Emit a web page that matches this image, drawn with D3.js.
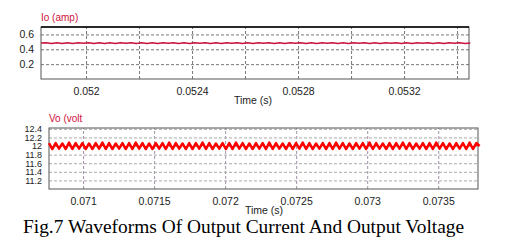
<!DOCTYPE html>
<html>
<head>
<meta charset="utf-8">
<script src="https://cdn.jsdelivr.net/npm/d3@7"></script>
<style>
  body { margin: 0; background: #fff; }
  svg { display: block; }
</style>
</head>
<body>
<script>
const ioStart = 0.05183;
const ioStep = 0.00002;
const ioValues = [
  0.484, 0.489, 0.479, 0.489, 0.479, 0.488, 0.479, 0.489, 0.480, 0.489,
  0.479, 0.489, 0.479, 0.488, 0.479, 0.489, 0.480, 0.489, 0.479, 0.488,
  0.479, 0.489, 0.479, 0.489, 0.480, 0.488, 0.479, 0.489, 0.479, 0.489,
  0.480, 0.488, 0.479, 0.489, 0.479, 0.489, 0.480, 0.489, 0.479, 0.488,
  0.479, 0.489, 0.480, 0.489, 0.479, 0.488, 0.479, 0.489, 0.480, 0.489,
  0.479, 0.488, 0.479, 0.489, 0.480, 0.489, 0.479, 0.488, 0.479, 0.489,
  0.480, 0.489, 0.479, 0.488, 0.479, 0.489, 0.480, 0.489, 0.479, 0.488,
  0.479, 0.489, 0.480, 0.489, 0.479, 0.488, 0.479, 0.489, 0.480, 0.489,
  0.479, 0.486
];

const voStart = 0.07076;
const voStep = 0.0000235;
const voValues = [
  12.07, 11.93, 12.07, 11.94, 12.06, 11.93, 12.08, 11.93, 12.07, 11.94,
  12.07, 11.93, 12.06, 11.93, 12.07, 11.94, 12.08, 11.93, 12.07, 11.93,
  12.06, 11.94, 12.07, 11.93, 12.07, 11.93, 12.08, 11.94, 12.07, 11.93,
  12.06, 11.93, 12.07, 11.94, 12.07, 11.93, 12.08, 11.93, 12.07, 11.94,
  12.06, 11.93, 12.07, 11.93, 12.07, 11.94, 12.08, 11.93, 12.07, 11.93,
  12.06, 11.94, 12.07, 11.93, 12.07, 11.93, 12.08, 11.94, 12.07, 11.93,
  12.06, 11.93, 12.07, 11.94, 12.07, 11.93, 12.08, 11.93, 12.07, 11.94,
  12.06, 11.93, 12.07, 11.93, 12.07, 11.94, 12.08, 11.93, 12.07, 11.93,
  12.06, 11.94, 12.07, 11.93, 12.07, 11.93, 12.08, 11.94, 12.07, 11.93,
  12.06, 11.93, 12.07, 11.94, 12.07, 11.93, 12.08, 11.93, 12.07, 11.94,
  12.06, 11.93, 12.07, 11.93, 12.07, 11.94, 12.08, 11.93, 12.07, 11.93,
  12.06, 11.94, 12.07, 11.93, 12.07, 11.93, 12.08, 11.94, 12.07, 11.93,
  12.06, 11.93, 12.07, 11.94, 12.07, 11.93, 12.08, 11.93, 12.07, 12.00
];

const ioYTicks = [0.2, 0.4, 0.6];
const ioXGrid = [0.052, 0.0522, 0.0524, 0.0526, 0.0528, 0.053, 0.0532, 0.0534];
const ioXLabels = [0.052, 0.0524, 0.0528, 0.0532];
const voYTicks = [11.2, 11.4, 11.6, 11.8, 12, 12.2, 12.4];
const voXTicks = [0.071, 0.0715, 0.072, 0.0725, 0.073, 0.0735];

const width = 520;
const height = 249;
const sans = "'Liberation Sans', Arial, sans-serif";

const svg = d3.select("body").append("svg")
  .attr("width", width)
  .attr("height", height);

function drawPanel(opt) {
  const x = d3.scaleLinear().domain(opt.xDomain).range([opt.left, opt.right]);
  const y = d3.scaleLinear().domain(opt.yDomain).range([opt.bottom, opt.top]);
  const g = svg.append("g");

  // grid
  g.append("g")
    .attr("transform", `translate(0,${opt.bottom})`)
    .call(d3.axisBottom(x).tickValues(opt.xGrid).tickSize(-(opt.bottom - opt.top)).tickFormat(""))
    .call(s => s.select(".domain").remove())
    .call(s => s.selectAll("line").attr("stroke", opt.vGridColor).attr("stroke-dasharray", "3,2"));

  g.append("g")
    .attr("transform", `translate(${opt.left},0)`)
    .call(d3.axisLeft(y).tickValues(opt.yTicks).tickSize(-(opt.right - opt.left)).tickFormat(""))
    .call(s => s.select(".domain").remove())
    .call(s => s.selectAll("line").attr("stroke", opt.hGridColor).attr("stroke-dasharray", "3,2"));

  // frame
  g.append("rect")
    .attr("x", opt.left).attr("y", opt.top)
    .attr("width", opt.right - opt.left).attr("height", opt.bottom - opt.top)
    .attr("fill", "none").attr("stroke", "#555");
  if (opt.topLine) {
    g.append("line")
      .attr("x1", opt.left).attr("x2", opt.right)
      .attr("y1", opt.top).attr("y2", opt.top)
      .attr("stroke", "#000").attr("stroke-width", 1.5);
  }

  // tick labels
  g.append("g")
    .attr("transform", `translate(0,${opt.bottom + 6})`)
    .call(d3.axisBottom(x).tickValues(opt.xLabels).tickSize(0).tickFormat(d => String(+d.toFixed(5))))
    .call(s => s.select(".domain").remove())
    .call(s => s.selectAll("text").attr("fill", "#222").style("font", `10.5px ${sans}`));

  g.append("g")
    .attr("transform", `translate(${opt.left - 4},0)`)
    .call(d3.axisLeft(y).tickValues(opt.yTicks).tickSize(0).tickFormat(d => String(d)))
    .call(s => s.select(".domain").remove())
    .call(s => s.selectAll("text").attr("fill", "#222").style("font", `${opt.yFont}px ${sans}`));

  // waveform
  const pts = opt.values.map((v, i) => [opt.start + i * opt.step, v]);
  g.append("path")
    .datum(pts)
    .attr("fill", "none")
    .attr("stroke", opt.color)
    .attr("stroke-width", opt.lineWidth)
    .attr("stroke-linejoin", "round")
    .attr("d", d3.line().x(d => x(d[0])).y(d => y(d[1])));

  // titles
  g.append("text")
    .attr("x", opt.left).attr("y", opt.top - 6)
    .attr("fill", "#d0103a")
    .style("font", `10px ${sans}`)
    .text(opt.title);

  g.append("text")
    .attr("x", opt.timeX).attr("y", opt.timeY)
    .attr("fill", "#222")
    .style("font", `10.5px ${sans}`)
    .text("Time (s)");
}

drawPanel({
  left: 41, right: 469, top: 27, bottom: 79,
  xDomain: [0.05183, 0.053445], yDomain: [0, 0.7],
  xGrid: ioXGrid, xLabels: ioXLabels, yTicks: ioYTicks,
  vGridColor: "#777", hGridColor: "#777",
  values: ioValues, start: ioStart, step: ioStep,
  color: "#c8143c", lineWidth: 1.5,
  title: "Io (amp)", timeX: 234, timeY: 104, yFont: 10.5, topLine: true
});

drawPanel({
  left: 49, right: 478, top: 128, bottom: 189,
  xDomain: [0.07076, 0.07378], yDomain: [11.0, 12.42],
  xGrid: voXTicks, xLabels: voXTicks, yTicks: voYTicks,
  vGridColor: "#a090a8", hGridColor: "#aaa",
  values: voValues, start: voStart, step: voStep,
  color: "#ff0000", lineWidth: 2.5,
  title: "Vo (volt", timeX: 245, timeY: 214, yFont: 9, topLine: false
});

svg.append("text")
  .attr("x", 23).attr("y", 233)
  .attr("fill", "#000")
  .style("font", "19.4px 'Liberation Serif', 'Times New Roman', serif")
  .text("Fig.7 Waveforms Of Output Current And Output Voltage");
</script>
</body>
</html>
